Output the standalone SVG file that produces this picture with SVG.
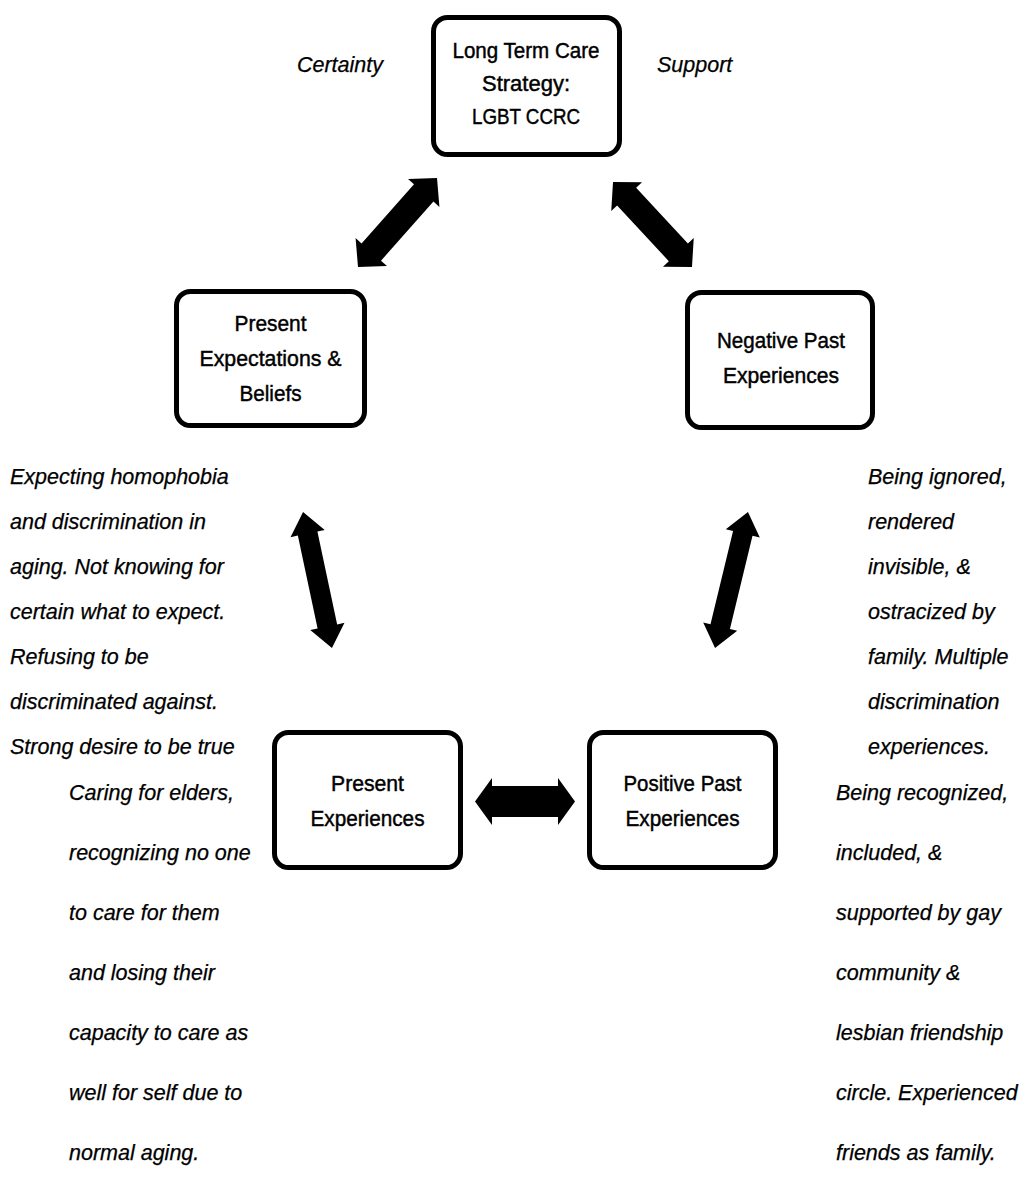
<svg xmlns="http://www.w3.org/2000/svg" width="1033" height="1192" viewBox="0 0 1033 1192">
<style>
.box{fill:#fff;stroke:#000;stroke-width:5}
.nt{font-family:"Liberation Sans",Arial,sans-serif;font-size:22px;fill:#000;stroke:#000;stroke-width:0.45;text-anchor:middle}
.it{font-family:"Liberation Sans",Arial,sans-serif;font-size:21.5px;font-style:italic;fill:#000;stroke:#000;stroke-width:0.25}
.arr{fill:#000;stroke:none}
</style>
<rect width="1033" height="1192" fill="#fff"/>
<g id="connectors">
<polygon class="arr" transform="translate(397.5,222.5) rotate(-48.4)" points="-59.5,0 -39.5,-21 -39.5,-13 39.5,-13 39.5,-21 59.5,0 39.5,21 39.5,13 -39.5,13 -39.5,21"/>
<polygon class="arr" transform="translate(652.5,224.5) rotate(47.1)" points="-58,0 -38,-21 -38,-13 38,-13 38,-21 58,0 38,21 38,13 -38,13 -38,21"/>
<polygon class="arr" transform="translate(317.5,580) rotate(78)" points="-69.5,0 -47.5,-17.5 -47.5,-10 47.5,-10 47.5,-17.5 69.5,0 47.5,17.5 47.5,10 -47.5,10 -47.5,17.5"/>
<polygon class="arr" transform="translate(731.5,580) rotate(103.6)" points="-70,0 -48,-17.5 -48,-10 48,-10 48,-17.5 70,0 48,17.5 48,10 -48,10 -48,17.5"/>
<polygon class="arr" transform="translate(525,801.5)" points="-50,0 -33,-23.5 -33,-15.5 33,-15.5 33,-23.5 50,0 33,23.5 33,15.5 -33,15.5 -33,23.5"/>
</g>
<g id="node-ltc">
<rect class="box" x="433.5" y="17.5" width="186" height="137" rx="14"/>
<text class="nt" x="526" y="58" textLength="147" lengthAdjust="spacingAndGlyphs">Long Term Care</text>
<text class="nt" x="526" y="91" textLength="88" lengthAdjust="spacingAndGlyphs">Strategy:</text>
<text class="nt" x="526" y="124" textLength="108" lengthAdjust="spacingAndGlyphs">LGBT CCRC</text>
</g>
<g id="node-pe">
<rect class="box" x="176.5" y="291.5" width="188" height="134" rx="14"/>
<text class="nt" x="270.5" y="331" textLength="72" lengthAdjust="spacingAndGlyphs">Present</text>
<text class="nt" x="270.5" y="366" textLength="142" lengthAdjust="spacingAndGlyphs">Expectations &amp;</text>
<text class="nt" x="270.5" y="401" textLength="62" lengthAdjust="spacingAndGlyphs">Beliefs</text>
</g>
<g id="node-npe">
<rect class="box" x="687.5" y="292.5" width="185" height="135" rx="14"/>
<text class="nt" x="781" y="348" textLength="128" lengthAdjust="spacingAndGlyphs">Negative Past</text>
<text class="nt" x="781" y="383" textLength="116" lengthAdjust="spacingAndGlyphs">Experiences</text>
</g>
<g id="node-pres">
<rect class="box" x="274.5" y="732.5" width="186" height="135" rx="14"/>
<text class="nt" x="367.5" y="791" textLength="73" lengthAdjust="spacingAndGlyphs">Present</text>
<text class="nt" x="367.5" y="826" textLength="114" lengthAdjust="spacingAndGlyphs">Experiences</text>
</g>
<g id="node-ppe">
<rect class="box" x="589.5" y="732.5" width="186" height="135" rx="14"/>
<text class="nt" x="682.5" y="791" textLength="118" lengthAdjust="spacingAndGlyphs">Positive Past</text>
<text class="nt" x="682.5" y="826" textLength="114" lengthAdjust="spacingAndGlyphs">Experiences</text>
</g>
<g id="labels">
<text class="it" x="383" y="72" text-anchor="end">Certainty</text>
<text class="it" x="657" y="72">Support</text>
<text class="it" x="10" y="484">Expecting homophobia</text>
<text class="it" x="10" y="529">and discrimination in</text>
<text class="it" x="10" y="574">aging. Not knowing for</text>
<text class="it" x="10" y="619">certain what to expect.</text>
<text class="it" x="10" y="664">Refusing to be</text>
<text class="it" x="10" y="709">discriminated against.</text>
<text class="it" x="10" y="754">Strong desire to be true</text>
<text class="it" x="868" y="484">Being ignored,</text>
<text class="it" x="868" y="529">rendered</text>
<text class="it" x="868" y="574">invisible, &amp;</text>
<text class="it" x="868" y="619">ostracized by</text>
<text class="it" x="868" y="664">family. Multiple</text>
<text class="it" x="868" y="709">discrimination</text>
<text class="it" x="868" y="754">experiences.</text>
<text class="it" x="69" y="800">Caring for elders,</text>
<text class="it" x="69" y="860">recognizing no one</text>
<text class="it" x="69" y="920">to care for them</text>
<text class="it" x="69" y="980">and losing their</text>
<text class="it" x="69" y="1040">capacity to care as</text>
<text class="it" x="69" y="1100">well for self due to</text>
<text class="it" x="69" y="1160">normal aging.</text>
<text class="it" x="836" y="800">Being recognized,</text>
<text class="it" x="836" y="860">included, &amp;</text>
<text class="it" x="836" y="920">supported by gay</text>
<text class="it" x="836" y="980">community &amp;</text>
<text class="it" x="836" y="1040">lesbian friendship</text>
<text class="it" x="836" y="1100">circle. Experienced</text>
<text class="it" x="836" y="1160">friends as family.</text>
</g>
</svg>
